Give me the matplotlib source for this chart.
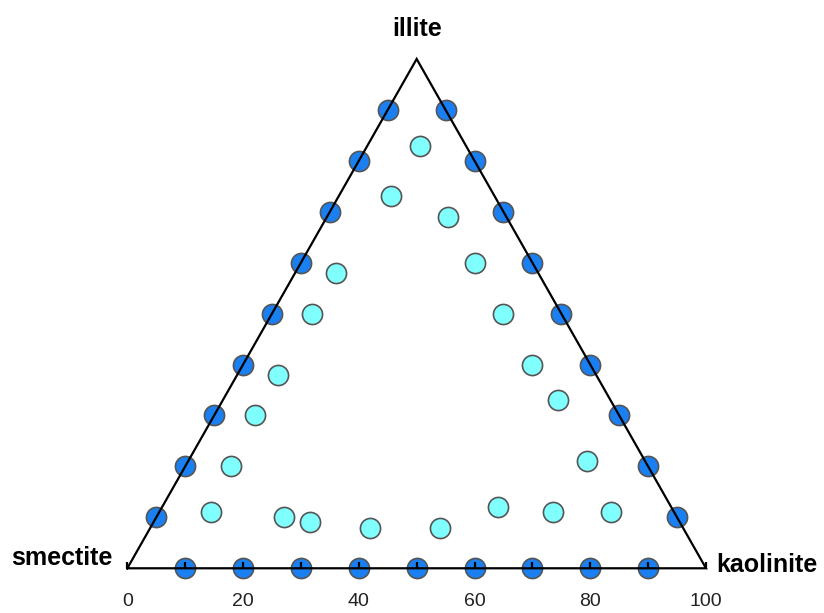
import matplotlib
matplotlib.use("Agg")
import matplotlib.pyplot as plt
import numpy as np

# ternary data: illite % and kaolinite % (smectite = rest)
edge_steps = [10, 20, 30, 40, 50, 60, 70, 80, 90]

# points on the sides of the triangle
left_illite = edge_steps                     # smectite-illite side
left_kaol = [0] * 9
right_illite = edge_steps                    # illite-kaolinite side
right_kaol = [100 - v for v in edge_steps]
bottom_illite = [0] * 9                      # smectite-kaolinite side
bottom_kaol = edge_steps

# interior samples
inner_illite = [83, 73, 69, 58, 60, 50, 50, 38, 40, 30, 33, 20, 21, 11, 10, 9, 8, 8, 12, 11, 11]
inner_kaol = [9, 9, 21, 7, 30, 7, 40, 7, 50, 7, 58, 8, 69, 9, 22, 27, 38, 50, 58, 68, 78]

tick_vals = [0, 10, 20, 30, 40, 50, 60, 70, 80, 90, 100]
label_vals = [0, 20, 40, 60, 80, 100]

corner_names = ["smectite", "illite", "kaolinite"]


def to_xy(illite, kaol):
    illite = np.asarray(illite, dtype=float)
    kaol = np.asarray(kaol, dtype=float)
    return kaol + illite / 2.0, illite


plt.rcParams['font.family'] = ['Liberation Sans', 'DejaVu Sans']

fig = plt.figure(figsize=(8.24, 6.13), dpi=100)
ax = fig.add_axes([0, 0, 1, 1])
ax.set_xlim(-22.0, 120.39)
ax.set_ylim(-8.78, 111.58)
ax.axis('off')

# triangle frame
ax.plot([0, 100, 50, 0], [0, 0, 100, 0], color='black', lw=1.6, zorder=3,
        solid_joinstyle='miter')

blue = '#1a7ff0'
cyan = '#80ffff'
edge = '#555555'
ms = 14.5

for il, ka in [(left_illite, left_kaol), (right_illite, right_kaol), (bottom_illite, bottom_kaol)]:
    x, y = to_xy(il, ka)
    ax.plot(x, y, 'o', ms=ms, mfc=blue, mec=edge, mew=1.2, ls='none', zorder=2)

x, y = to_xy(inner_illite, inner_kaol)
ax.plot(x, y, 'o', ms=ms, mfc=cyan, mec=edge, mew=1.2, ls='none', zorder=5)

# bottom axis ticks and labels
ax.vlines(tick_vals, 0, 1.2, color='black', lw=1.6, zorder=4)
for v in label_vals:
    ax.text(v, -7.5, str(v), ha='center', va='baseline', fontsize=14, color='#222222')

# corner labels
ax.text(-2.5, 0.65, corner_names[0], ha='right', va='baseline', fontsize=18, fontweight='bold')
ax.text(50, 104.6, corner_names[1], ha='center', va='baseline', fontsize=18, fontweight='bold')
ax.text(101.7, -0.67, corner_names[2], ha='left', va='baseline', fontsize=18, fontweight='bold')

fig.savefig("out.png", dpi=100)
